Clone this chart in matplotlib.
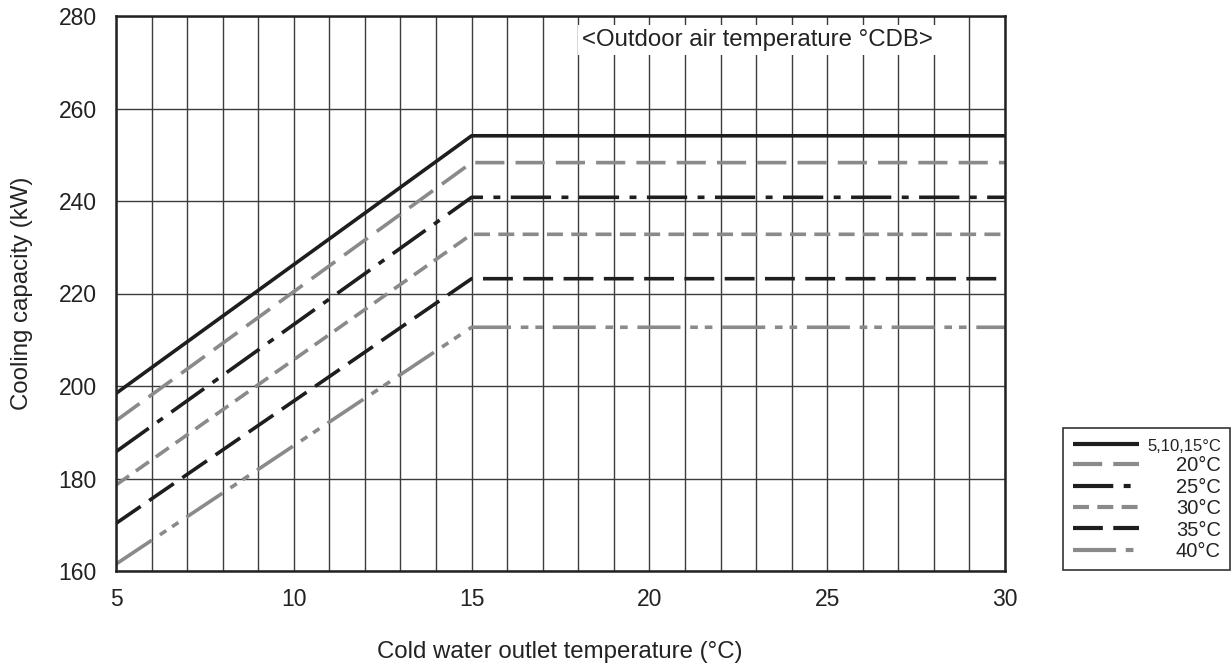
import matplotlib
matplotlib.use("Agg")
import matplotlib.pyplot as plt

plt.rcParams['font.family'] = ['Liberation Sans', 'DejaVu Sans']
plt.rcParams['lines.scale_dashes'] = False

water_temp = [5, 15, 30]
cap_5_10_15 = [198.4, 254.1, 254.1]
cap_20 = [192.5, 248.3, 248.3]
cap_25 = [185.8, 240.8, 240.8]
cap_30 = [178.6, 232.8, 232.8]
cap_35 = [170.3, 223.2, 223.2]
cap_40 = [161.5, 212.7, 212.7]
labels = ['5,10,15°C', '20°C', '25°C', '30°C', '35°C', '40°C']

black = '#1e1e1e'
gray = '#8a8a8a'
txt = '#222222'

fig = plt.figure(figsize=(12.32, 6.69), dpi=100)
ax = fig.add_axes([116/1232, 1-571/669, (1005-116)/1232, (571-16)/669])

series = [
    (cap_5_10_15, black, None),
    (cap_20, gray, (0, (21, 8))),
    (cap_25, black, (0, (29, 7.5, 5, 7.5))),
    (cap_30, gray, (0, (11.5, 6))),
    (cap_35, black, (0, (21.5, 7.5))),
    (cap_40, gray, (0, (31, 7, 5.5, 5, 5.5, 7))),
]
for (vals, col, ls), lab in zip(series, labels):
    if ls is None:
        ax.plot(water_temp, vals, color=col, lw=2.6, label=lab, solid_capstyle='butt')
    else:
        ax.plot(water_temp, vals, color=col, lw=2.6, linestyle=ls, label=lab, dash_capstyle='butt')

ax.set_xlim(5, 30)
ax.set_ylim(160, 280)
ax.set_xticks(range(5, 31, 5))
ax.set_xticks(range(5, 31), minor=True)
ax.set_yticks(range(160, 281, 20))
ax.grid(which='both', axis='x', color='#3c3c3c', lw=1.0)
ax.grid(which='major', axis='y', color='#3c3c3c', lw=1.0)
ax.set_axisbelow(True)
ax.tick_params(which='both', length=0, labelsize=16.5, colors=txt)
ax.tick_params(axis='x', pad=12)
ax.tick_params(axis='y', pad=14)
for s in ax.spines.values():
    s.set_color('#222222')
    s.set_linewidth(1.8)

ax.text(18.1, 274.8, '<Outdoor air temperature °CDB>', fontsize=17.3, color=txt,
        va='center', ha='left',
        bbox=dict(facecolor='white', edgecolor='none', pad=3))

fig.text(560/1232, 1-652/669, 'Cold water outlet temperature (°C)', fontsize=17.3,
         color=txt, ha='center', va='center')
fig.text(22/1232, 1-(16+571)/2/669, 'Cooling capacity (kW)', fontsize=17.3,
         color=txt, ha='center', va='center', rotation=90)

leg = fig.legend(loc='lower right', bbox_to_anchor=(1230/1232, 1-570/669),
                 fontsize=14.5, handlelength=3.3, handletextpad=0.4,
                 labelspacing=0.12, borderpad=0.45, borderaxespad=0,
                 fancybox=False, framealpha=1)
leg.get_frame().set_edgecolor('#333333')
leg.get_frame().set_linewidth(1.2)
for t in leg.get_texts():
    t.set_color(txt)
leg.get_texts()[0].set_fontsize(12)
for h in leg.get_lines():
    h.set_linewidth(3.0)

# right-align the legend texts
fig.canvas.draw()
r = fig.canvas.get_renderer()
ws = [t.get_window_extent(r).width for t in leg.get_texts()]
col = leg._legend_handle_box.get_children()[0]
for hp, w in zip(col.get_children(), ws):
    hp.sep += (max(ws) - w) * 72 / fig.dpi

fig.savefig('out.png', dpi=100)
